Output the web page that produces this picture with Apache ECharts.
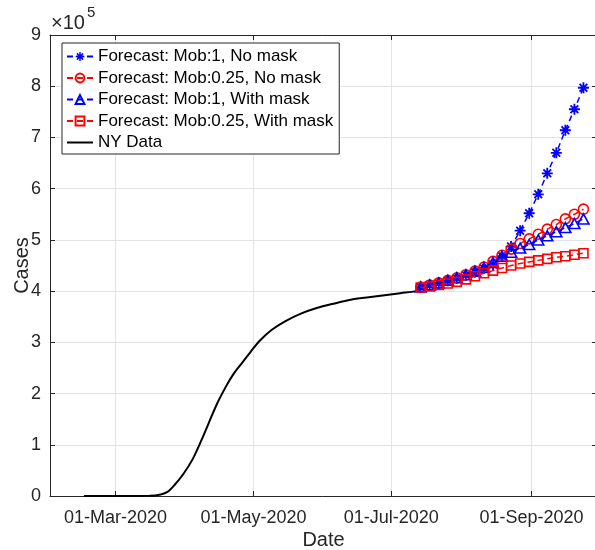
<!DOCTYPE html>
<html>
<head>
<meta charset="utf-8">
<script src="https://cdn.jsdelivr.net/npm/echarts@6/dist/echarts.min.js"></script>
<style>html,body{margin:0;padding:0;background:#fff;}#c{width:595px;height:550px;}</style>
</head>
<body>
<div id="c"></div>
<script>
// ---- data ----
const nyDates = ['2020-02-16','2020-03-16','2020-03-21','2020-03-24','2020-03-27','2020-03-31','2020-04-04','2020-04-08','2020-04-11','2020-04-15','2020-04-19','2020-04-22','2020-04-26','2020-04-30','2020-05-04','2020-05-09','2020-05-15','2020-05-22','2020-05-29','2020-06-06','2020-06-13','2020-06-21','2020-06-28','2020-07-05','2020-07-12','2020-07-14'];
const nyCases = [0,500,3000,8000,21000,43000,71000,109000,140000,181000,215000,237000,260000,283000,304000,324000,341000,356000,367000,376000,383000,388000,392000,396000,400000,404000];

const fcDates = ['2020-07-14','2020-07-18','2020-07-22','2020-07-26','2020-07-30','2020-08-03','2020-08-07','2020-08-11','2020-08-15','2020-08-19','2020-08-23','2020-08-27','2020-08-31','2020-09-04','2020-09-08','2020-09-12','2020-09-16','2020-09-20','2020-09-24'];
const mob1NoMask   = [407000,411000,415000,420000,425000,431000,437000,444000,452000,468000,487000,518000,552000,589000,630000,670000,714000,755000,797000];
const mob025NoMask = [408000,412000,416000,421000,426000,432000,439000,447000,458000,470000,482000,493000,502000,511000,521000,530000,541000,550000,560000];
const mob1Mask     = [408000,412000,416000,421000,426000,432000,439000,446000,456000,468000,476000,484000,491000,500000,508000,516000,524000,532000,541000];
const mob025Mask   = [407000,409000,412000,415000,418000,423000,429000,435000,440000,445000,450000,454000,457000,460000,463000,466000,468000,471000,474000];

const xTickDates  = ['2020-03-01','2020-05-01','2020-07-01','2020-09-01'];
const xTickLabels = ['01-Mar-2020','01-May-2020','01-Jul-2020','01-Sep-2020'];
const xMinDate = '2020-02-01', xMaxDate = '2020-09-30';
const seriesNames = ['Forecast: Mob:1, No mask','Forecast: Mob:0.25, No mask','Forecast: Mob:1, With mask','Forecast: Mob:0.25, With mask','NY Data'];

// ---- helpers ----
function ts(s){ const p = s.split('-').map(Number); return Date.UTC(p[0], p[1]-1, p[2]); }
function pairs(dates, vals){ return dates.map((d,i)=>[ts(d), vals[i]]); }

const FONT = 'Liberation Sans, Arial, Helvetica, sans-serif';
const TXT = '#262626';
const ASTER = 'path://M5,0L7,0L7,12L5,12Z M0,5L12,5L12,7L0,7Z M2.46,1.05L10.95,9.54L9.54,10.95L1.05,2.46Z M9.54,1.05L10.95,2.46L2.46,10.95L1.05,9.54Z';

const tickTs = xTickDates.map(ts);

const chart = echarts.init(document.getElementById('c'), null, {renderer:'canvas'});
const xCommon = {
  type:'value', min: ts(xMinDate), max: ts(xMaxDate), scale:true,
  axisLine:{show:true, onZero:false, lineStyle:{color:TXT, width:1}},
  axisTick:{show:true, inside:true, length:5, customValues: tickTs, lineStyle:{color:TXT}},
  splitLine:{show:false}
};
const yCommon = {
  type:'value', min:0, max:900000, interval:100000,
  axisLine:{show:true, lineStyle:{color:TXT, width:1}},
  axisTick:{show:true, inside:true, length:5, lineStyle:{color:TXT}},
  splitLine:{show:false}
};
const legendData = seriesNames.map(n => n === 'NY Data' ? {name:n, itemStyle:{opacity:0}} : n);
const option = {
  animation:false,
  backgroundColor:'#fff',
  textStyle:{fontFamily:FONT},
  grid:{left:50, top:35, width:547, height:461, containLabel:false, outerBoundsMode:'none'},
  xAxis:[
    Object.assign({}, xCommon, {
      position:'bottom',
      name:'Date', nameLocation:'middle', nameGap:34, nameMoveOverlap:false,
      nameTextStyle:{fontSize:20, color:TXT, fontFamily:FONT},
      axisLabel:{show:true, customValues: tickTs, margin:13, fontSize:18, color:TXT, fontFamily:FONT,
        formatter:function(v){ const i = tickTs.indexOf(v); return i>=0 ? xTickLabels[i] : ''; }},
      splitLine:{show:true, lineStyle:{color:'#e3e3e3', width:1}}
    }),
    Object.assign({}, xCommon, {position:'top', axisLabel:{show:false}})
  ],
  yAxis:[
    Object.assign({}, yCommon, {
      position:'left',
      name:'Cases', nameLocation:'middle', nameGap:18, nameMoveOverlap:false,
      nameTextStyle:{fontSize:20, color:TXT, fontFamily:FONT},
      axisLabel:{show:true, margin:9, fontSize:18, color:TXT, fontFamily:FONT,
        formatter:function(v){ return String(Math.round(v/100000)); }},
      splitLine:{show:true, lineStyle:{color:'#e3e3e3', width:1}}
    }),
    Object.assign({}, yCommon, {position:'right', axisLabel:{show:false}})
  ],
  legend:{
    orient:'vertical', left:62, top:43,
    data: legendData,
    itemWidth:26, itemHeight:11, itemGap:4.5,
    padding:[5,6,3,4],
    borderColor:TXT, borderWidth:1, backgroundColor:'#fff',
    textStyle:{fontSize:17, color:'#000', fontFamily:FONT, lineHeight:17},
    selectedMode:false
  },
  graphic:[
    {type:'text', left:51, top:13, style:{text:'×10', fontSize:20, fill:TXT, fontFamily:FONT}},
    {type:'text', left:87, top:5, style:{text:'5', fontSize:15, fill:TXT, fontFamily:FONT}}
  ],
  series:[
    {name:seriesNames[4], type:'line', data:pairs(nyDates, nyCases), symbol:'none', smooth:0.3,
      lineStyle:{color:'#000', width:2}, itemStyle:{color:'#000'}, z:2},
    {name:seriesNames[0], type:'line', data:pairs(fcDates, mob1NoMask), symbol:ASTER, symbolSize:11,
      lineStyle:{color:'#0000ff', width:1.5, type:[6,4]}, itemStyle:{color:'#0000ff'}, z:3},
    {name:seriesNames[1], type:'line', data:pairs(fcDates, mob025NoMask), symbol:'circle', symbolSize:10,
      lineStyle:{color:'#ff0000', width:1.5, type:[6,4]}, itemStyle:{color:'rgba(255,255,255,0)', borderColor:'#ff0000', borderWidth:1.6}, z:4},
    {name:seriesNames[2], type:'line', data:pairs(fcDates, mob1Mask), symbol:'triangle', symbolSize:[11,10],
      lineStyle:{color:'#0000ff', width:1.5, type:[6,4]}, itemStyle:{color:'rgba(255,255,255,0)', borderColor:'#0000ff', borderWidth:1.6}, z:5},
    {name:seriesNames[3], type:'line', data:pairs(fcDates, mob025Mask), symbol:'rect', symbolSize:9,
      lineStyle:{color:'#ff0000', width:1.5, type:[6,4]}, itemStyle:{color:'rgba(255,255,255,0)', borderColor:'#ff0000', borderWidth:1.6}, z:6}
  ]
};
chart.setOption(option);
</script>
</body>
</html>
